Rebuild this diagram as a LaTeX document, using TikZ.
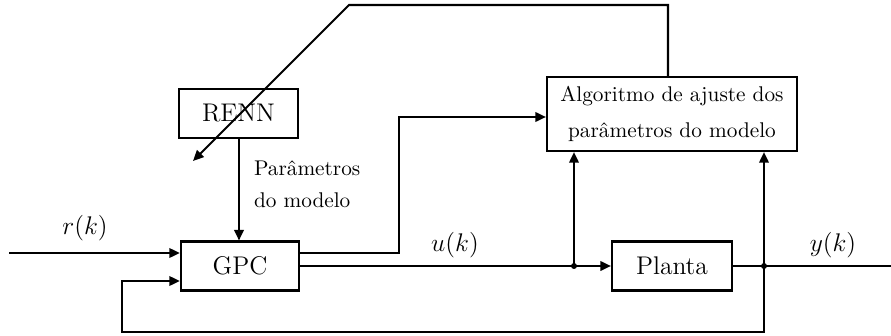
\documentclass[tikz,border=0pt]{standalone}
\usepackage{fontspec}
\usetikzlibrary{arrows.meta,calc}
\begin{document}
\begin{tikzpicture}[x=0.47pt,y=-0.47pt,
  line width=0.95pt,
  blk/.style={draw,line width=1pt,inner sep=0pt,minimum height=23pt},
  arr/.style={-{Triangle[length=5pt,width=4.5pt]}},
  dot/.style={circle,fill,inner sep=0pt,minimum size=2.8pt}]
\useasboundingbox (0,0) rectangle (891,336);
% blocks
\node[blk,minimum width=56pt,font=\large] (renn) at (238.5,113.5) {RENN};
\node[blk,minimum width=55.5pt,font=\large] (gpc) at (240,266) {GPC};
\node[blk,minimum width=56.4pt,font=\large] (planta) at (672,266) {Planta};
\node[blk,minimum width=117.5pt,minimum height=34.8pt,align=center] (algo) at (672,114)
  {Algoritmo de ajuste dos\\[5pt]parâmetros do modelo};
% labels
\node[align=left,anchor=west,inner sep=0pt] (par) at (253,184) {Parâmetros\\[3pt]do modelo};
\node (rlab) at (85,228) {\large $r(k)$};
\node (ulab) at (455,245) {\large $u(k)$};
\node (ylab) at (833,245) {\large $y(k)$};
% coordinates
\coordinate (rin) at (9,253);
\coordinate (g1) at (299,253);
\coordinate (c1) at (399,117);
\coordinate (j1) at (574,266);
\coordinate (j2) at (764,266);
\coordinate (yout) at (891,266);
\coordinate (fb1) at (764,332);
\coordinate (fb2) at (122,332);
\coordinate (fb3) at (122,281);
\coordinate (t1) at (668,5);
\coordinate (t2) at (349,5);
\coordinate (t3) at (193,161);
% connectors
\draw[arr] (renn.south -| 239,0) -- (239,0 |- gpc.north);
\draw[arr] (rin) -- (rin -| gpc.west);
\draw[arr] (g1) -| (c1) -- (c1 -| algo.west);
\draw[arr] (gpc.east) -- (planta.west);
\draw[arr] (j1) -- (j1 |- algo.south);
\draw (planta.east) -- (yout);
\draw[arr] (j2) -- (j2 |- algo.south);
\draw[arr] (j2) -- (fb1) -- (fb2) -- (fb3) -- (fb3 -| gpc.west);
\draw[arr] (t1 |- algo.north) -- (t1) -- (t2) -- (t3);
\node[dot] (d1) at (j1) {};
\node[dot] (d2) at (j2) {};
\end{tikzpicture}
\end{document}
